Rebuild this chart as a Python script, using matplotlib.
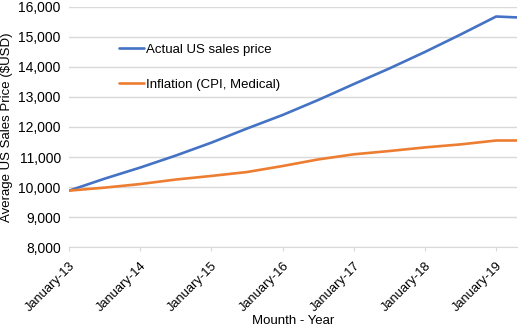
"""Average US sales price vs medical CPI inflation, 2013-2019."""

from matplotlib import pyplot as plt
from matplotlib import transforms
import numpy as np

# months since January 2013 (semi-annual points, last one in spring 2019)
months = [0, 6, 12, 18, 24, 30, 36, 42, 48, 54, 60, 66, 72, 75.5]
actual_price = [9880, 10280, 10650, 11050, 11480, 11950, 12400, 12900,
                13430, 13950, 14500, 15080, 15680, 15650]
inflation = [9880, 9980, 10100, 10250, 10370, 10500, 10700, 10920,
             11090, 11200, 11320, 11420, 11550, 11550]
tick_months = [0, 12, 24, 36, 48, 60, 72]
tick_labels = ["January-13", "January-14", "January-15", "January-16",
               "January-17", "January-18", "January-19"]

plt.rcParams["font.family"] = ["Liberation Sans", "DejaVu Sans"]

fig, ax = plt.subplots(figsize=(5.2, 3.29), dpi=100)
fig.subplots_adjust(left=0.133, right=0.994, bottom=0.249, top=0.979)

ax.plot(months, actual_price, color="#4472C4", lw=1.9,
        label="Actual US sales price", solid_capstyle="round")
ax.plot(months, inflation, color="#ED7D31", lw=1.9,
        label="Inflation (CPI, Medical)", solid_capstyle="round")

ax.set_xlim(months[0], months[-1])
ax.set_ylim(8000, 16000)
ax.set_yticks(np.arange(8000, 16001, 1000))
ax.yaxis.set_major_formatter(plt.FuncFormatter(lambda v, _: f"{v:,.0f}"))
ax.set_xticks(tick_months)
ax.set_xticklabels(tick_labels, rotation=45, ha="right", rotation_mode="anchor")

# nudge rotated labels so their upper end sits just right of the tick
shift = transforms.ScaledTranslation(6 / 100, -3 / 100, fig.dpi_scale_trans)
for lbl in ax.get_xticklabels():
    lbl.set_transform(lbl.get_transform() + shift)

ax.grid(axis="y", color="#d9d9d9", lw=1)
ax.set_axisbelow(True)
for side in ["top", "right", "left"]:
    ax.spines[side].set_visible(False)
ax.spines["bottom"].set_color("#d9d9d9")
ax.tick_params(axis="y", length=0, labelsize=10, pad=6)
ax.tick_params(axis="x", length=3, color="#d9d9d9", labelsize=9.3, pad=6)

ax.set_xlabel("Mounth - Year", fontsize=9.5, va="center")
ax.xaxis.set_label_coords(0.5, -0.308)
ax.set_ylabel("Average US Sales Price ($USD)", fontsize=9.5, labelpad=4)

ax.legend(loc="upper left", bbox_to_anchor=(0.085, 0.897), frameon=False,
          fontsize=9.5, handlelength=1.9, handletextpad=0.15, labelspacing=1.75)

fig.savefig("out.png", dpi=100, facecolor="white")
